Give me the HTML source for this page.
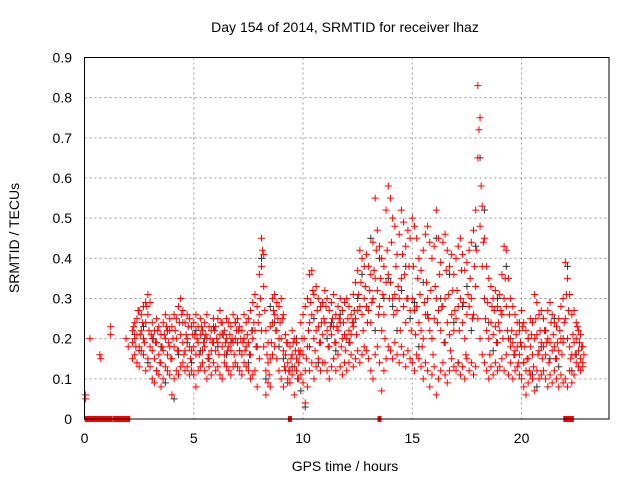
<!DOCTYPE html>
<html><head><meta charset="utf-8"><style>
body{margin:0;background:#fff}
svg{display:block;font-family:"Liberation Sans",sans-serif}
</style></head><body>
<svg id="chart" width="640" height="480">
<text x="345" y="32" font-size="14" text-anchor="middle">Day 154 of 2014, SRMTID for receiver lhaz</text>
<text x="345" y="471" font-size="14" text-anchor="middle">GPS time / hours</text>
<text transform="translate(19,238) rotate(-90)" font-size="14" text-anchor="middle">SRMTID / TECUs</text>
<g id="grid"></g><g id="marks"></g>
<rect x="84.5" y="57.5" width="524.5" height="361.5" fill="none" stroke="#000"/>
</svg>
<script>
const xTicks=[0,5,10,15,20];
const yTicks=[0,0.1,0.2,0.3,0.4,0.5,0.6,0.7,0.8,0.9];
const tStart=2.2, tStep=0.1;
const hiVals=[.22,.24,.25,.27,.26,.28,.29,.31,
.29,.24,.22,.25,.23,.21,.24,.26,.22,.25,
.23,.26,.25,.28,.30,.27,.24,.26,.25,.23,
.24,.26,.23,.25,.22,.24,.26,.23,.22,.25,
.23,.25,.27,.24,.22,.25,.24,.23,.26,.24,
.25,.23,.22,.26,.24,.25,.27,.29,.31,.28,
.36,.45,.41,.22,.19,.23,.30,.31,.29,.28,
.30,.26,.21,.19,.18,.22,.20,.19,.17,.24,
.26,.28,.30,.36,.37,.31,.33,.30,.28,.29,
.32,.30,.27,.29,.31,.26,.28,.30,.27,.29,
.30,.28,.26,.31,.34,.37,.42,.40,.38,.41,
.38,.36,.44,.55,.47,.43,.40,.38,.52,.58,
.55,.50,.48,.41,.46,.52,.49,.43,.47,.45,
.50,.48,.45,.40,.37,.42,.46,.48,.44,.40,
.43,.52,.45,.39,.44,.46,.42,.38,.41,.36,
.40,.43,.45,.41,.37,.39,.42,.44,.47,.52,
.83,.75,.53,.45,.38,.35,.33,.30,.32,.28,
.31,.36,.43,.42,.35,.30,.28,.26,.24,.22,
.27,.24,.22,.20,.25,.24,.31,.29,.26,.27,
.25,.22,.27,.29,.26,.24,.23,.25,.28,.30,
.39,.35,.31,.26,.27,.24,.22,.21,.18];
const loVals=[.15,.16,.14,.13,.17,.16,.12,.15,
.13,.10,.09,.12,.11,.08,.10,.13,.12,.11,
.06,.10,.12,.11,.13,.14,.12,.13,.11,.12,
.11,.08,.12,.13,.14,.12,.10,.13,.11,.14,
.12,.13,.11,.10,.14,.13,.12,.11,.13,.14,
.13,.12,.11,.14,.13,.12,.10,.11,.12,.08,
.15,.22,.18,.06,.09,.08,.16,.18,.15,.12,
.10,.08,.12,.10,.09,.11,.06,.12,.10,.11,
.09,.04,.08,.12,.14,.10,.13,.15,.12,.14,
.14,.12,.10,.13,.15,.12,.16,.13,.11,.14,
.12,.14,.16,.13,.15,.17,.14,.16,.18,.17,
.15,.12,.10,.16,.18,.14,.07,.12,.15,.18,
.17,.15,.19,.16,.14,.18,.16,.13,.17,.15,
.14,.12,.16,.15,.13,.10,.14,.12,.08,.11,
.13,.06,.10,.12,.14,.11,.09,.12,.15,.13,
.12,.14,.11,.13,.10,.15,.12,.14,.11,.13,
.25,.20,.16,.14,.12,.10,.13,.11,.14,.12,
.13,.15,.12,.16,.11,.14,.10,.12,.13,.11,
.10,.08,.06,.09,.11,.10,.07,.12,.10,.11,
.12,.10,.08,.11,.09,.12,.10,.08,.11,.09,
.10,.08,.12,.09,.11,.14,.13,.12,.13];
const midVals=[.19,.20,.21,.18,.22,.20,.24,.26,
.18,.17,.15,.19,.16,.14,.17,.20,.16,.18,
.15,.18,.20,.17,.21,.19,.17,.20,.18,.17,
.18,.16,.19,.21,.17,.18,.20,.16,.17,.19,
.17,.19,.21,.18,.16,.20,.18,.17,.19,.20,
.19,.17,.16,.20,.18,.19,.16,.20,.22,.18,
.26,.38,.33,.12,.14,.15,.24,.26,.22,.20,
.20,.17,.16,.14,.12,.16,.13,.15,.14,.17,
.16,.12,.18,.24,.26,.20,.22,.23,.19,.21,
.24,.22,.18,.21,.23,.19,.22,.24,.20,.21,
.20,.22,.21,.23,.25,.27,.28,.26,.30,.28,
.27,.24,.30,.35,.32,.28,.22,.26,.34,.36,
.34,.30,.31,.27,.30,.35,.28,.24,.30,.27,
.30,.27,.28,.24,.22,.20,.26,.30,.22,.20,
.25,.30,.27,.22,.28,.30,.24,.21,.26,.22,
.25,.28,.30,.24,.20,.26,.28,.30,.26,.33,
.65,.48,.38,.30,.22,.20,.24,.21,.23,.19,
.22,.26,.30,.28,.20,.18,.19,.17,.18,.16,
.18,.14,.12,.15,.18,.16,.20,.21,.17,.19,
.18,.16,.20,.19,.17,.18,.15,.17,.20,.19,
.25,.20,.18,.16,.19,.20,.17,.15,.14];
const t2Start=2.25;
const mid2Vals=[.23,.18,.27,.21,.24,.19,.28,.22,
.21,.20,.19,.22,.14,.18,.21,.23,.19,.15,
.20,.22,.17,.24,.26,.16,.21,.23,.15,.21,
.21,.20,.16,.23,.19,.21,.15,.20,.19,.22,
.20,.16,.24,.21,.19,.17,.21,.20,.16,.22,
.22,.20,.19,.17,.21,.16,.22,.24,.18,.24,
.30,.42,.27,.16,.11,.19,.27,.22,.25,.24,
.25,.13,.19,.12,.15,.19,.17,.10,.16,.20,
.20,.15,.22,.29,.32,.17,.27,.19,.24,.25,
.28,.18,.23,.25,.19,.23,.25,.18,.24,.17,
.25,.19,.24,.27,.21,.31,.34,.22,.33,.24,
.32,.29,.37,.42,.26,.35,.31,.20,.42,.30,
.44,.26,.38,.33,.22,.41,.36,.30,.38,.22,
.38,.21,.35,.31,.18,.29,.34,.25,.32,.16,
.33,.24,.36,.28,.19,.37,.31,.17,.32,.27,
.32,.22,.37,.29,.16,.31,.35,.25,.38,.42,
.72,.58,.44,.25,.29,.16,.28,.27,.19,.24,
.27,.20,.35,.22,.26,.22,.16,.21,.14,.19,
.23,.18,.15,.12,.21,.13,.25,.16,.22,.15,
.22,.19,.14,.24,.21,.15,.19,.22,.16,.24,
.31,.27,.15,.21,.16,.23,.19,.18,.16];
const bStart=2.3, bStep=0.2;
const blackVals=[.21,.17,.23,.14,.20,.12,.18,.09,.22,.05,
.16,.24,.19,.14,.22,.17,.20,.15,.23,.18,
.21,.16,.19,.24,.17,.20,.14,.22,.18,.40,
.10,.28,.24,.18,.15,.09,.13,.20,.07,.03,
.18,.25,.14,.29,.20,.24,.17,.26,.21,.19,
.24,.30,.36,.28,.45,.22,.40,.30,.35,.28,
.22,.32,.38,.25,.29,.18,.34,.26,.20,.45,
.30,.19,.36,.24,.14,.28,.33,.22,.43,.65,
.52,.24,.17,.30,.26,.38,.20,.16,.24,.14,
.20,.11,.08,.18,.22,.15,.25,.13,.20,.38,
.12,.16];
const earlyT=[0.05,0.05,0.25,0.7,0.75,1.2,1.2,1.9,2.0];
const earlyV=[0.06,0.05,0.2,0.16,0.15,0.23,0.21,0.2,0.18];
const zeroT=[0.1,0.2,0.3,0.4,0.5,0.6,0.7,0.8,0.9,1.0,1.1,1.2,1.4,1.5,1.6,1.7,1.8,1.9,2.0,9.4,13.5,22.0,22.1,22.2,22.3];

const X0=84.5,X1=609,Y0=419,Y1=57.5,XMAX=24,YMAX=0.9;
const xs=t=>X0+t/XMAX*(X1-X0);
const ys=v=>Y0-v/YMAX*(Y0-Y1);
const NS='http://www.w3.org/2000/svg';
const svg=document.getElementById('chart');
const grid=document.getElementById('grid'),marks=document.getElementById('marks');
function mk(tag,at,parent){const e=document.createElementNS(NS,tag);for(const k in at)e.setAttribute(k,at[k]);parent.appendChild(e);return e;}
xTicks.forEach(t=>{
 const x=xs(t);
 if(t>0){const g=mk('line',{x1:x,x2:x,y1:Y1,y2:Y0,stroke:'#999','stroke-dasharray':'2,3'},grid);
 
 }
 const l=mk('text',{x:x,y:443,'font-size':14,'text-anchor':'middle'},svg);l.textContent=t;
 
 
});
yTicks.forEach(v=>{
 const y=ys(v);
 if(v>0&&v<0.9){const g=mk('line',{x1:X0,x2:X1,y1:y,y2:y,stroke:'#999','stroke-dasharray':'2,3'},grid);
 
 }
 const l=mk('text',{x:72,y:y+5,'font-size':14,'text-anchor':'end'},svg);l.textContent=(v===0?'0':v.toFixed(1));
 
 
});
function plus(t,v,c){
 const x=xs(t),y=ys(v);
 const p=mk('path',{d:`M${x-3.5},${y}h7M${x},${y-3.5}v7`,stroke:c,'stroke-width':1,fill:'none'},marks);
 
 
}
blackVals.forEach((v,i)=>plus(bStart+i*bStep,v,'#333'));
[hiVals,midVals,loVals].forEach(arr=>arr.forEach((v,i)=>plus(tStart+i*tStep,v,'#f00')));
mid2Vals.forEach((v,i)=>plus(t2Start+i*tStep,v,'#f00'));
earlyV.forEach((v,i)=>plus(earlyT[i],v,'#f00'));
zeroT.forEach(t=>{
 const r=mk('rect',{x:xs(t)-2,y:Y0-3,width:4,height:6,fill:'#f00'},marks);
 
 
});
</script>
</body></html>
